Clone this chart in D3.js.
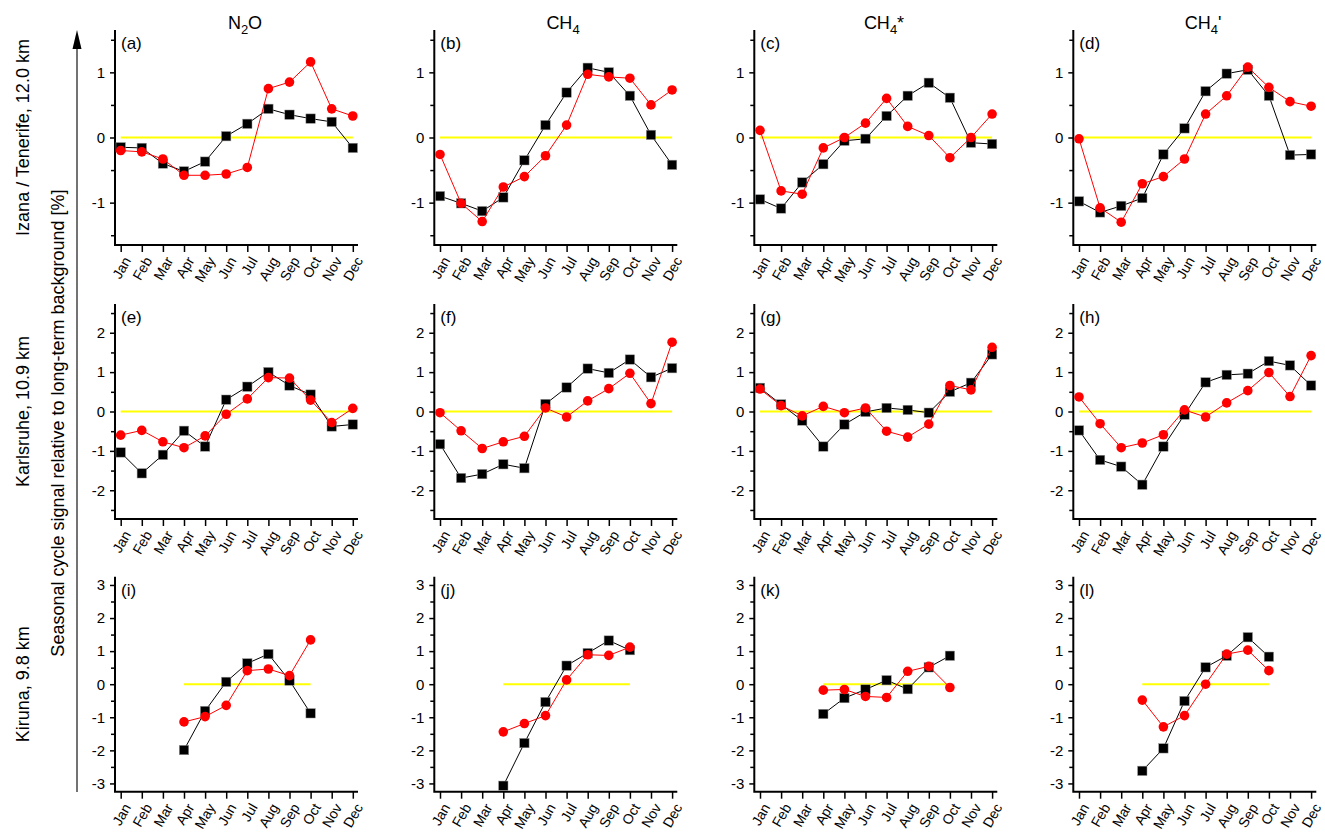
<!DOCTYPE html>
<html>
<head>
<meta charset="utf-8">
<script src="https://cdn.jsdelivr.net/npm/d3@7"></script>
<style>
  body { margin: 0; background: #fff; }
  svg { display: block; font-family: "Liberation Sans", Arial, sans-serif; }
</style>
</head>
<body>
<svg id="chart" width="1325" height="839"></svg>
<script>
// ---- data -------------------------------------------------------------
const months = ["Jan","Feb","Mar","Apr","May","Jun","Jul","Aug","Sep","Oct","Nov","Dec"];
const stations = ["Izana / Tenerife, 12.0 km", "Karlsruhe, 10.9 km", "Kiruna, 9.8 km"];
const panelLetters = ["a","b","c","d","e","f","g","h","i","j","k","l"];
const yLimits = [1.65, 2.73, 3.25];
const yMajorTicks = [[-1, 0, 1], [-2, -1, 0, 1, 2], [-3, -2, -1, 0, 1, 2, 3]];
const yMinorTicks = [[-1.5, -0.5, 0.5, 1.5], [-2.5, -1.5, -0.5, 0.5, 1.5, 2.5], [-2.5, -1.5, -0.5, 0.5, 1.5, 2.5]];
const zeroLineMonths = [[0, 11], [0, 11], [3, 9]];

// Izana / Tenerife (black squares, red circles)
const izanaN2OSq   = [-0.15,-0.16,-0.40,-0.52,-0.37,0.02,0.21,0.44,0.35,0.29,0.24,-0.16];
const izanaN2OCi   = [-0.20,-0.22,-0.33,-0.58,-0.58,-0.56,-0.46,0.75,0.85,1.16,0.44,0.33];
const izanaCH4Sq   = [-0.90,-1.01,-1.13,-0.92,-0.35,0.19,0.69,1.07,1.00,0.64,0.04,-0.42];
const izanaCH4Ci   = [-0.26,-1.01,-1.29,-0.76,-0.60,-0.28,0.19,0.97,0.93,0.91,0.50,0.73];
const izanaCH4sSq  = [-0.95,-1.09,-0.69,-0.41,-0.05,-0.02,0.33,0.64,0.84,0.61,-0.08,-0.10];
const izanaCH4sCi  = [0.11,-0.82,-0.87,-0.16,0.00,0.22,0.60,0.17,0.03,-0.31,0.00,0.36];
const izanaCH4pSq  = [-0.98,-1.15,-1.05,-0.93,-0.26,0.14,0.71,0.98,1.04,0.64,-0.27,-0.26];
const izanaCH4pCi  = [-0.02,-1.08,-1.30,-0.71,-0.60,-0.33,0.36,0.64,1.08,0.77,0.55,0.48];

// Karlsruhe
const karlsN2OSq   = [-1.04,-1.57,-1.10,-0.49,-0.89,0.30,0.63,1.00,0.66,0.43,-0.38,-0.33];
const karlsN2OCi   = [-0.60,-0.48,-0.77,-0.92,-0.62,-0.07,0.32,0.86,0.85,0.29,-0.28,0.08];
const karlsCH4Sq   = [-0.83,-1.69,-1.59,-1.34,-1.44,0.19,0.61,1.09,0.98,1.32,0.87,1.10];
const karlsCH4Ci   = [-0.03,-0.49,-0.94,-0.77,-0.63,0.09,-0.14,0.27,0.58,0.97,0.20,1.76];
const karlsCH4sSq  = [0.60,0.18,-0.23,-0.89,-0.33,-0.01,0.09,0.04,-0.03,0.50,0.73,1.45];
const karlsCH4sCi  = [0.57,0.15,-0.11,0.13,-0.03,0.09,-0.50,-0.65,-0.32,0.66,0.55,1.63];
const karlsCH4pSq  = [-0.48,-1.23,-1.40,-1.86,-0.89,-0.08,0.74,0.93,0.96,1.28,1.17,0.66];
const karlsCH4pCi  = [0.37,-0.31,-0.92,-0.80,-0.59,0.04,-0.14,0.22,0.53,0.99,0.38,1.42];

// Kiruna (April to October only)
const kirunaN2OSq  = [null,null,null,-1.99,-0.81,0.07,0.63,0.91,0.11,-0.88,null,null];
const kirunaN2OCi  = [null,null,null,-1.14,-0.98,-0.64,0.41,0.46,0.26,1.34,null,null];
const kirunaCH4Sq  = [null,null,null,-3.07,-1.78,-0.54,0.56,0.94,1.32,1.03,null,null];
const kirunaCH4Ci  = [null,null,null,-1.44,-1.19,-0.95,0.13,0.89,0.87,1.12,null,null];
const kirunaCH4sSq = [null,null,null,-0.90,-0.42,-0.16,0.12,-0.15,0.51,0.86,null,null];
const kirunaCH4sCi = [null,null,null,-0.18,-0.16,-0.37,-0.40,0.39,0.54,-0.10,null,null];
const kirunaCH4pSq = [null,null,null,-2.62,-1.94,-0.51,0.51,0.86,1.42,0.83,null,null];
const kirunaCH4pCi = [null,null,null,-0.48,-1.29,-0.95,0.00,0.91,1.03,0.41,null,null];

const squareSeries = [
  [izanaN2OSq, izanaCH4Sq, izanaCH4sSq, izanaCH4pSq],
  [karlsN2OSq, karlsCH4Sq, karlsCH4sSq, karlsCH4pSq],
  [kirunaN2OSq, kirunaCH4Sq, kirunaCH4sSq, kirunaCH4pSq]
];
const circleSeries = [
  [izanaN2OCi, izanaCH4Ci, izanaCH4sCi, izanaCH4pCi],
  [karlsN2OCi, karlsCH4Ci, karlsCH4sCi, karlsCH4pCi],
  [kirunaN2OCi, kirunaCH4Ci, kirunaCH4sCi, kirunaCH4pCi]
];

// ---- layout -----------------------------------------------------------
const svg = d3.select("#chart");
const colLeft = [115, 434.3, 754.3, 1073.3];
const rowTop = [30, 304, 576.7];
const plotH = 215;
const axisW = 243;
const firstTick = 5.7, lastTick = 237.8;
const fontStack = "Liberation Sans, Arial, sans-serif";
const hyphenFmt = d => (d < 0 ? "-" + Math.abs(d) : String(d));

// column titles: [main text, subscript, suffix]
const titles = [
  { x: 245, parts: ["N", "2", "O"] },
  { x: 563, parts: ["CH", "4", ""] },
  { x: 884, parts: ["CH", "4", "*"] },
  { x: 1203, parts: ["CH", "4", "'"] }
];
titles.forEach(t => {
  const txt = svg.append("text")
    .attr("x", t.x).attr("y", 29)
    .attr("text-anchor", "middle")
    .attr("font-size", 18).attr("fill", "#000");
  txt.append("tspan").text(t.parts[0]);
  txt.append("tspan").attr("font-size", 13).attr("dy", 5).text(t.parts[1]);
  if (t.parts[2]) txt.append("tspan").attr("dy", -5).text(t.parts[2]);
});

// panels
for (let r = 0; r < 3; r++) {
  for (let c = 0; c < 4; c++) {
    const left = colLeft[c], top = rowTop[r];
    const g = svg.append("g");
    const x = d3.scaleLinear().domain([0, 11]).range([left + firstTick, left + lastTick]);
    const y = d3.scaleLinear().domain([-yLimits[r], yLimits[r]]).range([top + plotH, top]);

    // minor y ticks
    g.append("g").attr("transform", `translate(${left},0)`)
      .call(d3.axisLeft(y).tickValues(yMinorTicks[r]).tickSize(4).tickFormat(""))
      .call(a => a.select(".domain").remove())
      .call(a => a.selectAll("line").attr("stroke-width", 1.5));
    // major y ticks
    g.append("g").attr("transform", `translate(${left},0)`)
      .call(d3.axisLeft(y).tickValues(yMajorTicks[r]).tickSize(5).tickPadding(5).tickFormat(hyphenFmt))
      .call(a => a.select(".domain").remove())
      .call(a => a.selectAll("line").attr("stroke-width", 1.5))
      .call(a => a.selectAll("text").attr("font-size", 15).attr("font-family", fontStack).attr("fill", "#000"));

    // x axis with slanted month names
    const xa = g.append("g").attr("transform", `translate(0,${top + plotH})`)
      .call(d3.axisBottom(x).tickValues(d3.range(12)).tickSize(7).tickFormat(i => months[i]))
      .call(a => a.select(".domain").remove())
      .call(a => a.selectAll("line").attr("stroke-width", 1.5));
    xa.selectAll("text")
      .attr("font-size", 14).attr("font-family", fontStack).attr("fill", "#000")
      .attr("text-anchor", "end")
      .attr("transform", "translate(6,13) rotate(-60)")
      .attr("x", 0).attr("y", 0).attr("dy", "0.35em");

    // axis lines
    g.append("path")
      .attr("d", `M${left},${top}V${top + plotH}H${left + axisW}`)
      .attr("fill", "none").attr("stroke", "#000").attr("stroke-width", 2);

    // zero reference line
    const [z0, z1] = zeroLineMonths[r];
    g.append("line")
      .attr("x1", x(z0)).attr("x2", x(z1)).attr("y1", y(0)).attr("y2", y(0))
      .attr("stroke", "#ffff00").attr("stroke-width", 2);

    const sq = squareSeries[r][c].map((v, i) => ({ i, v })).filter(d => d.v !== null);
    const ci = circleSeries[r][c].map((v, i) => ({ i, v })).filter(d => d.v !== null);
    const line = d3.line().x(d => x(d.i)).y(d => y(d.v));

    g.append("path").attr("d", line(sq)).attr("fill", "none").attr("stroke", "#000").attr("stroke-width", 1);
    g.selectAll(".sq").data(sq).join("rect")
      .attr("x", d => x(d.i) - 4.7).attr("y", d => y(d.v) - 4.7)
      .attr("width", 9.4).attr("height", 9.4).attr("fill", "#000")
      .attr("stroke", "#999").attr("stroke-width", 0.5);

    g.append("path").attr("d", line(ci)).attr("fill", "none").attr("stroke", "#ff0000").attr("stroke-width", 1);
    g.selectAll(".ci").data(ci).join("circle")
      .attr("cx", d => x(d.i)).attr("cy", d => y(d.v)).attr("r", 4.8)
      .attr("fill", "#ff0000");

    // panel letter
    g.append("text")
      .attr("x", left + 6).attr("y", top + 19)
      .attr("font-size", 17).attr("fill", "#000")
      .text(`(${panelLetters[r * 4 + c]})`);
  }
}

// station labels
stations.forEach((s, r) => {
  svg.append("text")
    .attr("transform", `translate(29,${rowTop[r] + plotH / 2}) rotate(-90)`)
    .attr("text-anchor", "middle")
    .attr("font-size", 18).attr("fill", "#000")
    .text(s);
});

// common y label with upward arrow
svg.append("text")
  .attr("transform", "translate(64,423) rotate(-90)")
  .attr("text-anchor", "middle")
  .attr("font-size", 18).attr("fill", "#000")
  .text("Seasonal cycle signal relative to long-term background [%]");
svg.append("line")
  .attr("x1", 77).attr("x2", 77).attr("y1", 792).attr("y2", 46)
  .attr("stroke", "#444").attr("stroke-width", 1.5);
svg.append("path")
  .attr("d", "M77,30L72.5,49L81.5,49Z")
  .attr("fill", "#000");
</script>
</body>
</html>
